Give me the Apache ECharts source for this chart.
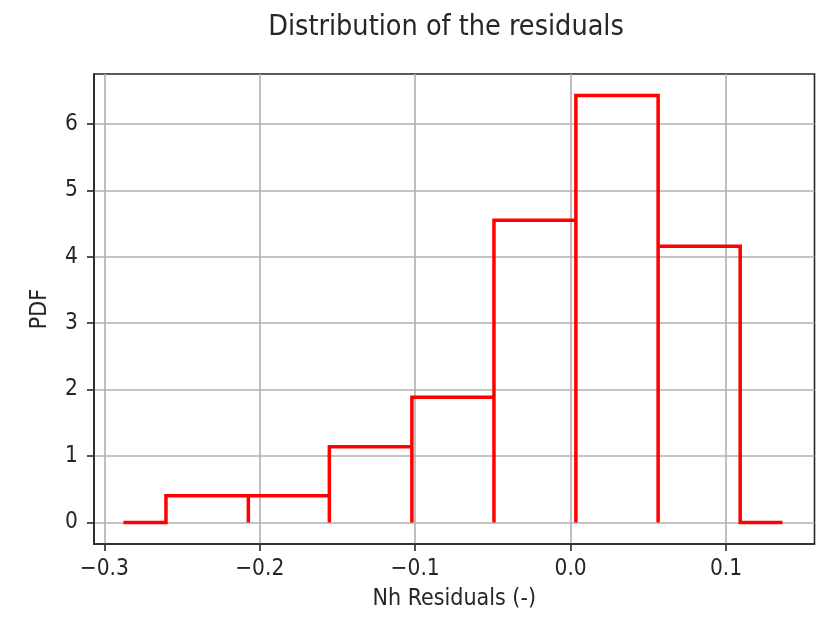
<!DOCTYPE html>
<html>
<head>
<meta charset="utf-8">
<script src="https://cdn.jsdelivr.net/npm/echarts@6/dist/echarts.min.js"></script>
<style>
html,body{margin:0;padding:0;background:#fff;}
#chart{width:821px;height:620px;}
</style>
</head>
<body>
<div id="chart"></div>
<script>
// Histogram bin edges (Nh residuals) and PDF heights
const binEdges = [-0.2603, -0.2073, -0.1552, -0.1021, -0.0493, 0.0034, 0.0563, 0.1091];
const binHeights = [0.40, 0.40, 1.14, 1.885, 4.55, 6.43, 4.16];
// zero-level stubs drawn before the first and after the last edge
const tailStubs = [-0.2877, 0.1363];
const xTicks = [-0.3, -0.2, -0.1, 0.0, 0.1];
const yTicks = [0, 1, 2, 3, 4, 5, 6];

// Build the histogram outline polyline from the arrays
const pts = [[tailStubs[0], 0], [binEdges[0], 0]];
for (let i = 0; i < binHeights.length; i++) {
  pts.push([binEdges[i], binHeights[i]]);
  pts.push([binEdges[i + 1], binHeights[i]]);
  pts.push([binEdges[i + 1], 0]);
}
pts.push([tailStubs[1], 0]);

const font = '"DejaVu Sans Condensed", "DejaVu Sans"';
const chart = echarts.init(document.getElementById('chart'), null, {renderer: 'canvas'});
chart.setOption({
  animation: false,
  backgroundColor: '#ffffff',
  title: {
    text: 'Distribution of the residuals',
    left: 441, top: 8, textAlign: 'center',
    textStyle: {fontFamily: font, fontSize: 28.5, fontWeight: 'normal', color: '#262626'}
  },
  grid: {
    left: 94, right: 6.5, top: 74, bottom: 76, containLabel: false,
    show: true, borderColor: '#262626', borderWidth: 1.6, backgroundColor: 'transparent'
  },
  xAxis: {
    type: 'value', min: -0.3066, max: 0.1569,
    name: 'Nh Residuals (-)', nameLocation: 'middle', nameGap: 44,
    nameTextStyle: {fontFamily: font, fontSize: 23, color: '#262626'},
    axisLine: {show: true, onZero: false, lineStyle: {color: '#262626', width: 1.6}},
    axisTick: {show: true, length: 7, customValues: xTicks, lineStyle: {color: '#262626', width: 1.6}},
    axisLabel: {
      customValues: xTicks, margin: 14, fontFamily: font, fontSize: 22.5, color: '#262626',
      formatter: v => (v < 0 ? '\u2212' : '') + Math.abs(v).toFixed(1)
    },
    splitLine: {show: true, lineStyle: {color: '#b0b0b0', width: 1.6}}
  },
  yAxis: {
    type: 'value', min: -0.325, max: 6.752,
    name: 'PDF', nameLocation: 'middle', nameGap: 42, nameRotate: 90,
    nameTextStyle: {fontFamily: font, fontSize: 23, color: '#262626'},
    axisLine: {show: true, onZero: false, lineStyle: {color: '#262626', width: 1.6}},
    axisTick: {show: true, length: 7, customValues: yTicks, lineStyle: {color: '#262626', width: 1.6}},
    axisLabel: {
      customValues: yTicks, margin: 16, fontFamily: font, fontSize: 22.5, color: '#262626',
      formatter: v => String(Math.round(v))
    },
    splitLine: {show: true, lineStyle: {color: '#b0b0b0', width: 1.6}}
  },
  series: [{
    type: 'line', data: pts, symbol: 'none', clip: false,
    lineStyle: {color: '#ff0000', width: 3.5, join: 'miter'}
  }]
});
</script>
</body>
</html>
